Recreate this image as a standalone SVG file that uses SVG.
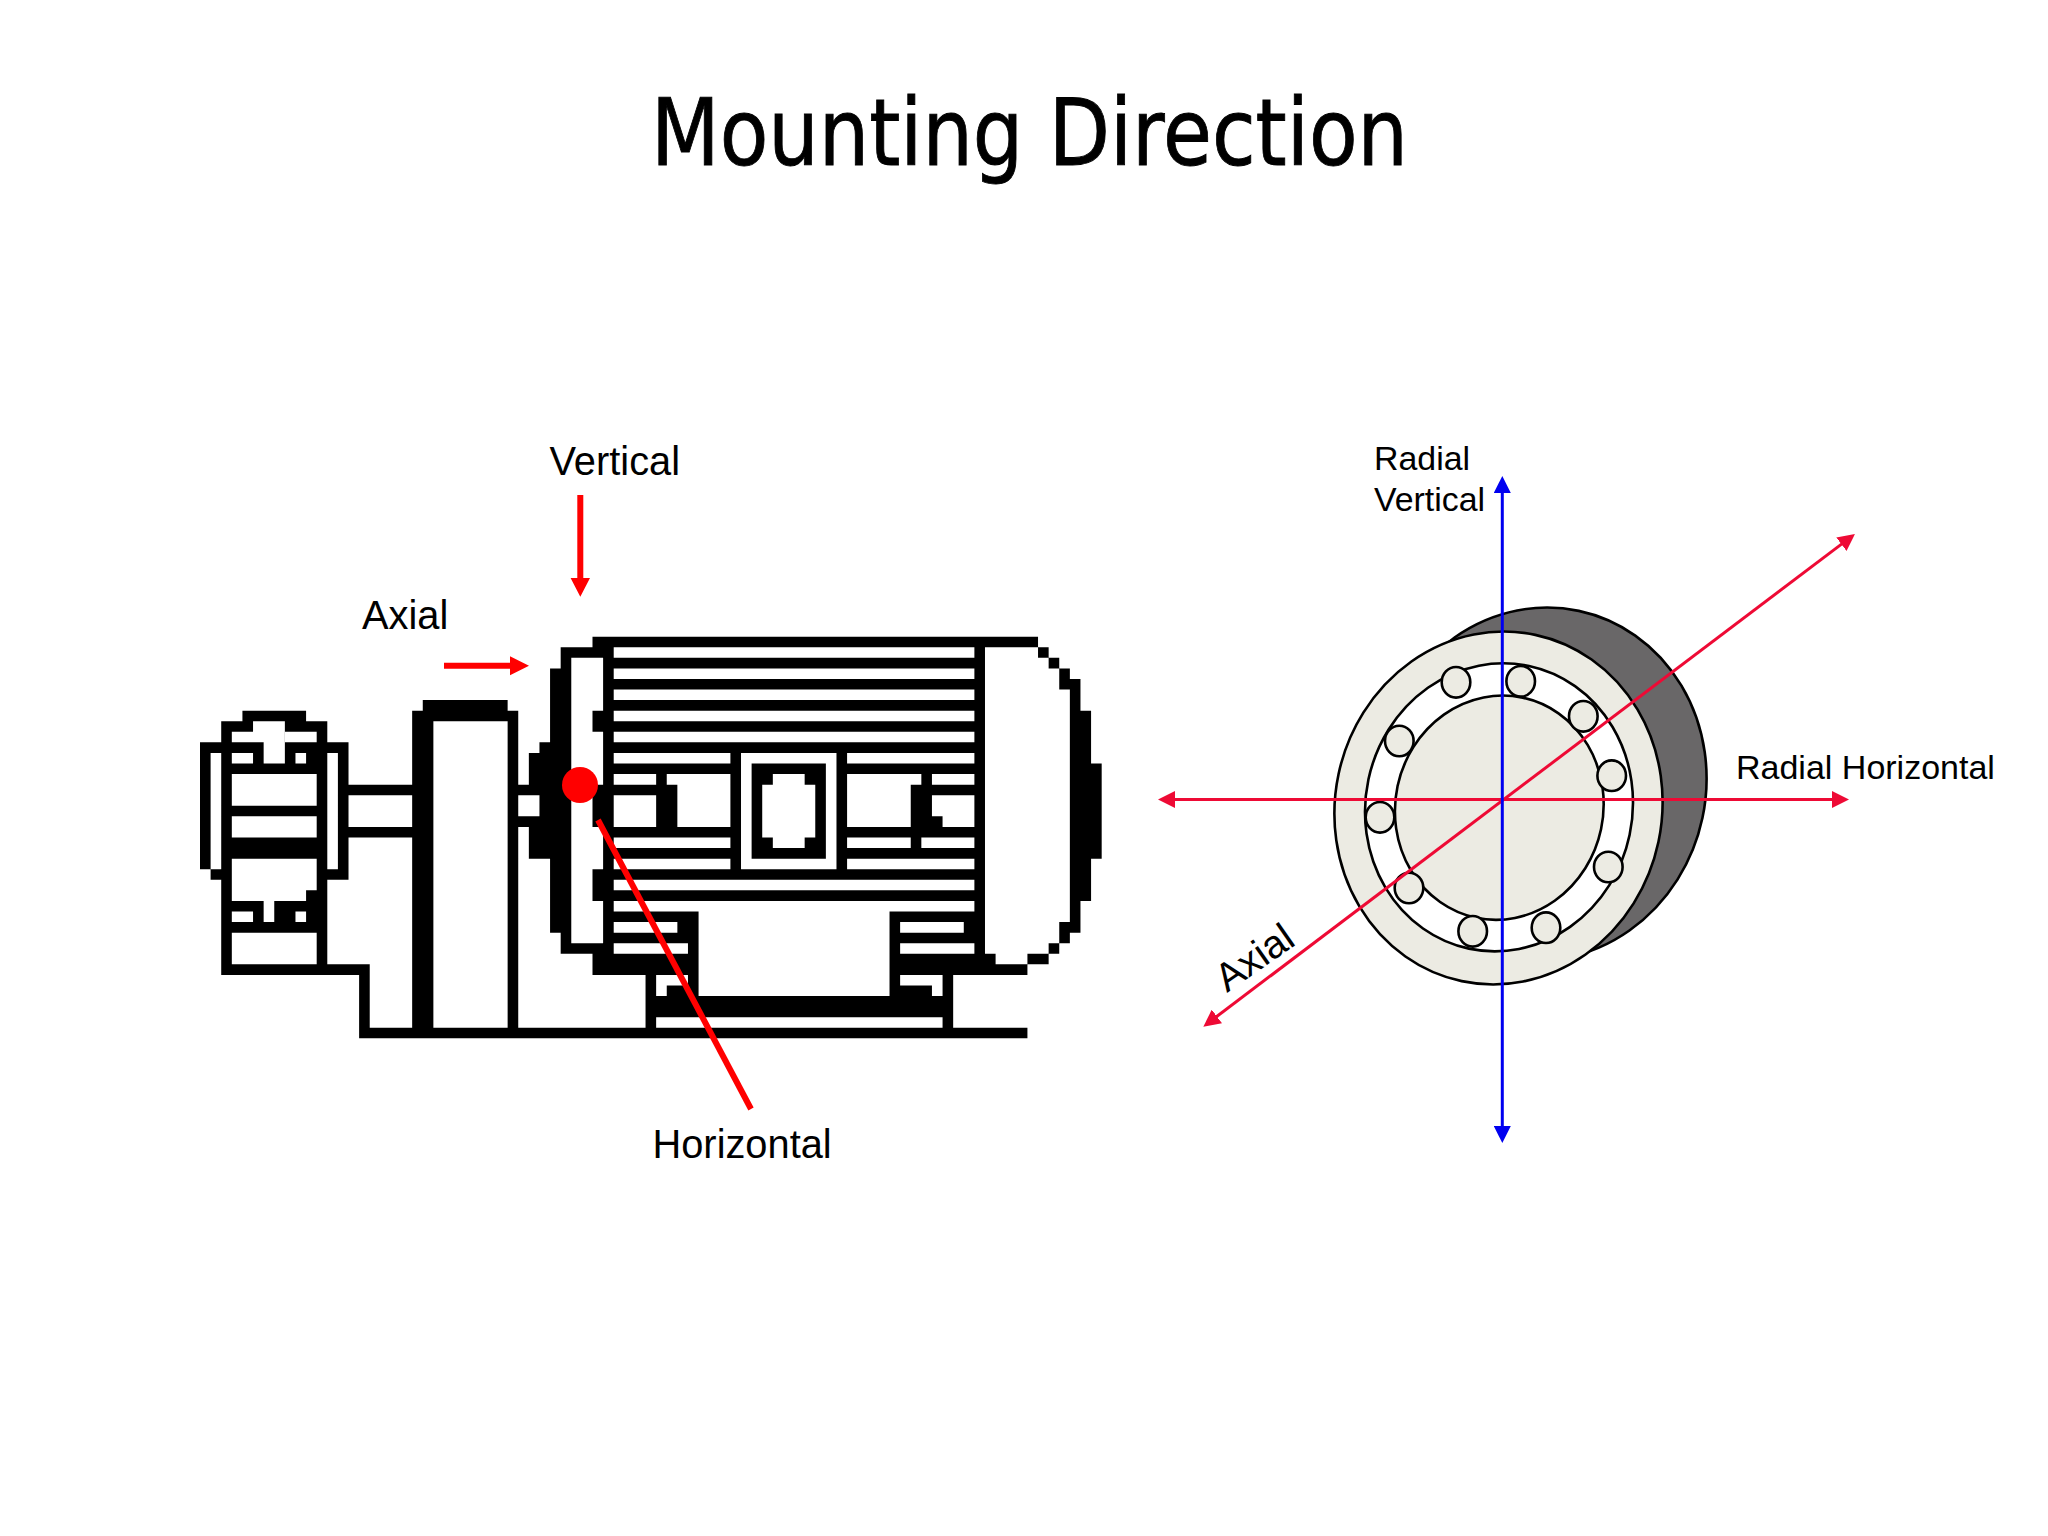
<svg xmlns="http://www.w3.org/2000/svg" width="2048" height="1536" viewBox="0 0 2048 1536">
<style>
.lbl{font-family:"Liberation Sans",Arial,sans-serif;fill:#000}
.ink{stroke:#000;stroke-width:2.6}
.cream{fill:#ecebe3}
.ball{fill:#ecebe3;stroke:#000;stroke-width:2.6}
.ax{fill:none;stroke-width:3}
.red{stroke:#ee0a35}
.blue{stroke:#0000f0}
</style>
<defs>
<marker id="hr" markerUnits="userSpaceOnUse" viewBox="0 0 17 17" markerWidth="17" markerHeight="17" refX="1" refY="8.5" orient="auto-start-reverse"><path d="M0 0L17 8.5L0 17Z" fill="#ee0a35"/></marker>
<marker id="hb" markerUnits="userSpaceOnUse" viewBox="0 0 17 17" markerWidth="17" markerHeight="17" refX="1" refY="8.5" orient="auto-start-reverse"><path d="M0 0L17 8.5L0 17Z" fill="#0000f0"/></marker>
</defs>
<rect width="2048" height="1536" fill="#fff"/>
<text id="title" x="651" y="165" font-family="'DejaVu Sans',sans-serif" font-size="93" textLength="757" lengthAdjust="spacingAndGlyphs" fill="#000" stroke="#000" stroke-width="0.9">Mounting Direction</text>

<g id="motor" transform="translate(200 636.67) scale(10.608 10.57)">
<path fill="#000" d="M4 7H10V8H12V10H14V14H20V7H21V6H29V7H30V14H31V11H32V10H33V3H34V1H37V0H79V1H80V2H81V3H82V4H83V7H84V12H85V21H84V25H83V28H82V29H81V30H80V31H78V32H71V37H78V38H15V32H2V23H1V22H0V10H2V8H4Z"/>
<path fill="#fff" d="M14 19H20V37H16V31H12V23H14Z"/>
<path fill="#fff" d="M30 18H31V21H33V28H34V30H37V32H42V37H30Z"/>
<path fill="#fff" d="M5 8H8V12H6V10H3V9H5ZM3 11H5V12H3ZM9 11H10V12H9ZM3 13H11V16H3ZM3 17H11V19H3ZM3 21H11V24H10V25H3ZM3 26H5V27H3ZM6 25H7V27H6ZM9 26H10V27H9ZM3 28H11V31H3ZM1 11H2V22H1ZM12 11H13V22H12ZM14 15H20V18H14ZM22 8H29V37H22ZM30 15H32V17H30Z"/>
<path fill="#fff" d="M8 9H11V10H8Z"/>
<path fill="#fff" d="M35 2H38V7H37V9H38V14H37V18H38V22H37V25H38V29H35Z"/>
<path fill="#fff" d="M39 1H73V2H39ZM39 3H73V4H39ZM39 5H73V6H39ZM39 7H73V8H39ZM39 9H73V10H39ZM39 11H50V12H39ZM61 11H73V12H61ZM39 13H43V14H39ZM39 15H43V18H39ZM39 19H50V20H39ZM39 21H50V22H39ZM61 13H68V14H67V18H61ZM69 13H73V14H69ZM69 15H73V18H70V17H69ZM61 19H67V20H61ZM68 19H73V20H68ZM61 21H73V22H61ZM39 23H73V24H39ZM39 25H73V26H39ZM39 27H45V28H39ZM39 29H46V30H39ZM66 27H72V28H66ZM66 29H73V30H66ZM47 25H65V34H47ZM43 32H46V33H44V34H43ZM66 32H70V34H69V33H66ZM43 36H70V37H43Z"/>
<path fill="#fff" d="M44 13H50V18H45V14H44Z"/>
<path fill="#fff" d="M51 11H60V22H51Z"/>
<path fill="#000" d="M52 12H59V21H52Z"/>
<path fill="#fff" d="M54 13H57V14H58V19H57V20H54V19H53V14H54Z"/>
<path fill="#fff" d="M74 1H79V2H80V3H81V5H82V27H81V29H80V30H78V31H75V30H74Z"/>
</g>

<g id="bearing">
<ellipse cx="1542" cy="784" rx="164" ry="177" transform="rotate(12 1542 784)" fill="#696768" class="ink"/>
<ellipse cx="1498.500" cy="808" rx="163.500" ry="177" transform="rotate(12 1498.500 808)" class="cream ink"/>
<ellipse cx="1499" cy="807.3" rx="133.5" ry="144.5" transform="rotate(12 1499 807.3)" fill="#fff" class="ink"/>
<ellipse cx="1499.3" cy="807.7" rx="104" ry="112.5" transform="rotate(12 1499.3 807.7)" class="cream ink"/>
<g id="balls">
<ellipse class="ball" cx="1456" cy="682.3" rx="14.3" ry="15.3"/>
<ellipse class="ball" cx="1520.7" cy="681.3" rx="14.3" ry="15.3"/>
<ellipse class="ball" cx="1583.3" cy="716.3" rx="14.3" ry="15.3"/>
<ellipse class="ball" cx="1611.7" cy="775.7" rx="14.3" ry="15.3"/>
<ellipse class="ball" cx="1608.3" cy="867" rx="14.3" ry="15.3"/>
<ellipse class="ball" cx="1546" cy="927.7" rx="14.3" ry="15.3"/>
<ellipse class="ball" cx="1472.7" cy="931.3" rx="14.3" ry="15.3"/>
<ellipse class="ball" cx="1409" cy="888" rx="14.3" ry="15.3"/>
<ellipse class="ball" cx="1380" cy="817.3" rx="14.3" ry="15.3"/>
<ellipse class="ball" cx="1399.3" cy="741" rx="14.3" ry="15.3"/>
</g>
</g>

<g id="connectors">
<path d="M444 662.8H510V656.3L529 665.8L510 675.3V668.8H444Z" fill="#f00"/>
<path d="M577.3 495H583.3V578H590L580.3 596.7L570.6 578H577.3Z" fill="#f00"/>
<line x1="598" y1="820" x2="751" y2="1109" stroke="#f00" stroke-width="6"/>
<line class="ax red" x1="1174" y1="799.5" x2="1833" y2="799.5" marker-start="url(#hr)" marker-end="url(#hr)"/>
<line class="ax red" x1="1216.1" y1="1017" x2="1842.2" y2="543.6" marker-start="url(#hr)" marker-end="url(#hr)"/>
<line class="ax blue" x1="1502.3" y1="492" x2="1502.3" y2="1127" marker-start="url(#hb)" marker-end="url(#hb)"/>
</g>
<circle id="point" cx="580" cy="785" r="18" fill="#f00"/>

<g id="labels">
<text class="lbl" x="549.5" y="475" font-size="39.800">Vertical</text>
<text class="lbl" x="362" y="629" font-size="39.800">Axial</text>
<text class="lbl" x="652.500" y="1158" font-size="39.800">Horizontal</text>
<text class="lbl" x="1374" y="470" font-size="33.900">Radial</text>
<text class="lbl" x="1374" y="510.700" font-size="33.900">Vertical</text>
<text class="lbl" x="1736" y="779" font-size="34">Radial Horizontal</text>
<text class="lbl" x="1227" y="993" font-size="39.500" transform="rotate(-35 1227 993)">Axial</text>
</g>
</svg>
